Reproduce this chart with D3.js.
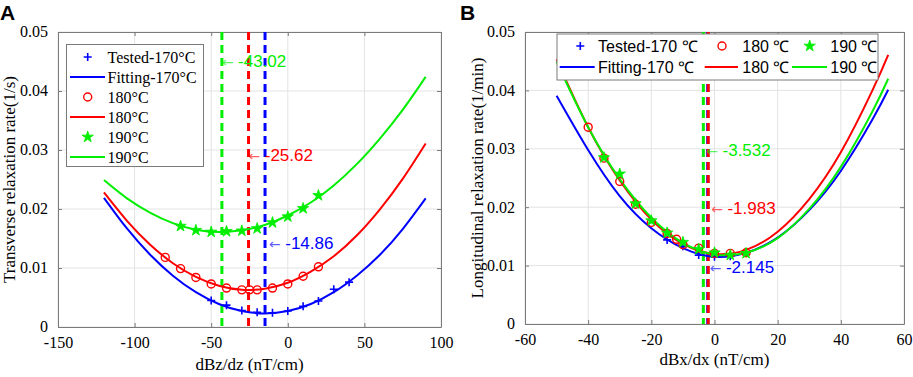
<!DOCTYPE html>
<html>
<head>
<meta charset="utf-8">
<script src="https://cdn.jsdelivr.net/npm/d3@7"></script>
<style>
  body { margin: 0; background: #fff; }
  svg { display: block; }
</style>
</head>
<body>
<svg id="chart" width="913" height="377"></svg>
<script>
// ---------- panel A : transverse relaxation ----------
var aTestX170 = [-50, -40, -30, -20, -10, 0, 10, 20, 30, 40];
var aTestY170 = [0.0045, 0.0037, 0.0028, 0.0025, 0.0024, 0.0027, 0.0035, 0.0044, 0.0064, 0.0076];
var aTestX180 = [-80, -70, -60, -50, -40, -30, -25, -20, -10, 0, 10, 20];
var aTestY180 = [0.0118, 0.0099, 0.0084, 0.0073, 0.0066, 0.0063, 0.0063, 0.0063, 0.0066, 0.0073, 0.0086, 0.0102];
var aTestX190 = [-70, -60, -50, -40, -30, -20, -10, 0, 10, 20];
var aTestY190 = [0.0171, 0.0164, 0.0161, 0.0162, 0.0163, 0.0167, 0.0177, 0.0187, 0.0201, 0.0223];

var aFitX = [-120, -105, -90, -75, -60, -45, -30, -15, 0, 15, 30, 45, 60, 75, 90];
var aFit170 = [0.0219, 0.0167, 0.0123, 0.0087, 0.0059, 0.0039, 0.0027, 0.0023, 0.0027, 0.0039, 0.0059, 0.0087, 0.0122, 0.0166, 0.0218];
var aFit180 = [0.0228, 0.0180, 0.0140, 0.0108, 0.0085, 0.0070, 0.0063, 0.0065, 0.0075, 0.0094, 0.0120, 0.0155, 0.0199, 0.0251, 0.0311];
var aFit190 = [0.0249, 0.0218, 0.0194, 0.0176, 0.0165, 0.0161, 0.0164, 0.0173, 0.0189, 0.0211, 0.0240, 0.0276, 0.0319, 0.0368, 0.0424];

var aVertex = [-14.86, -25.62, -43.02];      // 170, 180, 190
var aNoteY = [0.0142, 0.0292, 0.0450];

var aXTicks = [-150, -100, -50, 0, 50, 100];
var aYTicks = [0, 0.01, 0.02, 0.03, 0.04, 0.05];
var aLegend = ["Tested-170°C", "Fitting-170°C", "180°C", "180°C", "190°C", "190°C"];

// ---------- panel B : longitudinal relaxation ----------
var bTestX170 = [-15, -10, -5, 0, 5, 10];
var bTestY170 = [0.0144, 0.0133, 0.0118, 0.0115, 0.0116, 0.0122];
var bTestX180 = [-40, -35, -30, -25, -20, -15, -12, -10, -5, 0, 5, 10];
var bTestY180 = [0.0337, 0.0284, 0.0244, 0.0205, 0.0174, 0.0155, 0.0145, 0.0136, 0.0130, 0.0121, 0.0121, 0.0122];
var bTestX190 = [-35, -30, -25, -20, -15, -10, -5, 0, 5, 10];
var bTestY190 = [0.0285, 0.0257, 0.0206, 0.0177, 0.0156, 0.0140, 0.0128, 0.0122, 0.0118, 0.0121];

var bFitX = [-50, -40, -30, -20, -10, 0, 10, 20, 30, 40, 50, 55];
var bFit170 = [0.0391, 0.0298, 0.0219, 0.0164, 0.0130, 0.0115, 0.0122, 0.0148, 0.0195, 0.0262, 0.0350, 0.0401];
var bFit180 = [0.0453, 0.0337, 0.0246, 0.0179, 0.0137, 0.0120, 0.0127, 0.0158, 0.0214, 0.0294, 0.0400, 0.0461];
var bFit190 = [0.0449, 0.0337, 0.0248, 0.0182, 0.0139, 0.0119, 0.0122, 0.0147, 0.0197, 0.0269, 0.0364, 0.0420];

var bVertex = [-2.145, -1.983, -3.532];
var bNoteY = [0.0098, 0.0198, 0.0298];

var bXTicks = [-60, -40, -20, 0, 20, 40, 60];
var bYTicks = [0, 0.01, 0.02, 0.03, 0.04, 0.05];
var bLegend = ["Tested-170 ℃", "Fitting-170 ℃", "180 ℃", "180 ℃", "190 ℃", "190 ℃"];

var colors = ["#0000ff", "#ff0000", "#00ee00"];
var axisGray = "#7a7a7a";
var serif = '"Liberation Serif", "Times New Roman", serif';
var sans = '"Liberation Sans", Arial, sans-serif';

var svg = d3.select("#chart");

function zip(xs, ys) {
  return xs.map(function(x, i) { return [x, ys[i]]; });
}

function drawMarker(g, kind, cx, cy, color) {
  if (kind === 0) {
    g.append("path")
      .attr("d", "M" + (cx - 4) + "," + cy + "h8M" + cx + "," + (cy - 4) + "v8")
      .attr("stroke", color).attr("stroke-width", 1.6).attr("fill", "none");
  } else if (kind === 1) {
    g.append("circle").attr("cx", cx).attr("cy", cy).attr("r", 4)
      .attr("stroke", color).attr("stroke-width", 1.4).attr("fill", "none");
  } else {
    g.append("path")
      .attr("d", d3.symbol().type(d3.symbolStar).size(40)())
      .attr("transform", "translate(" + cx + "," + cy + ")")
      .attr("fill", color).attr("stroke", color).attr("stroke-width", 0.8);
  }
}

function drawPanel(p) {
  var x = d3.scaleLinear().domain(p.xDomain).range([p.left, p.right]);
  var y = d3.scaleLinear().domain([0, 0.05]).range([p.bottom, p.top]);
  var g = svg.append("g");

  // grid
  g.append("g").selectAll("line").data(p.xTicks).enter().append("line")
    .attr("x1", function(d) { return x(d); }).attr("x2", function(d) { return x(d); })
    .attr("y1", p.top).attr("y2", p.bottom)
    .attr("stroke", "#e3e3e3").attr("stroke-width", 1);
  g.append("g").selectAll("line").data(p.yTicks).enter().append("line")
    .attr("x1", p.left).attr("x2", p.right)
    .attr("y1", function(d) { return y(d); }).attr("y2", function(d) { return y(d); })
    .attr("stroke", "#e3e3e3").attr("stroke-width", 1);

  // axes (MATLAB box, ticks inside)
  var fmtX = function(d) { return String(d); };
  var fmtY = function(d) { return d === 0 ? "0" : d.toFixed(2); };
  var ax = g.append("g").attr("transform", "translate(0," + p.bottom + ")")
    .call(d3.axisBottom(x).tickValues(p.xTicks).tickFormat(fmtX).tickSizeInner(-4).tickSizeOuter(0).tickPadding(9));
  var ay = g.append("g").attr("transform", "translate(" + p.left + ",0)")
    .call(d3.axisLeft(y).tickValues(p.yTicks).tickFormat(fmtY).tickSizeInner(-4).tickSizeOuter(0).tickPadding(10));
  var at = g.append("g").attr("transform", "translate(0," + p.top + ")")
    .call(d3.axisTop(x).tickValues(p.xTicks).tickSizeInner(-4).tickSizeOuter(0).tickFormat(""));
  var ar = g.append("g").attr("transform", "translate(" + p.right + ",0)")
    .call(d3.axisRight(y).tickValues(p.yTicks).tickSizeInner(-4).tickSizeOuter(0).tickFormat(""));
  [ax, ay, at, ar].forEach(function(a) {
    a.select(".domain").attr("stroke", axisGray);
    a.selectAll(".tick line").attr("stroke", axisGray);
    a.selectAll(".tick text").attr("font-family", serif).attr("font-size", 16).attr("fill", "#000");
  });
  ax.selectAll(".tick text").attr("dy", "0.75em");
  ay.selectAll(".tick text").attr("dy", "0.3em");

  // vertex dashed lines
  p.vertex.forEach(function(v, i) {
    g.append("line")
      .attr("x1", x(v)).attr("x2", x(v)).attr("y1", p.top).attr("y2", p.bottom)
      .attr("stroke", colors[i]).attr("stroke-width", 3).attr("stroke-dasharray", "8,5");
  });

  // fitted curves
  var line = d3.line().x(function(d) { return x(d[0]); }).y(function(d) { return y(d[1]); })
    .curve(d3.curveNatural);
  p.fits.forEach(function(f, i) {
    g.append("path").datum(zip(p.fitX, f)).attr("d", line)
      .attr("fill", "none").attr("stroke", colors[i]).attr("stroke-width", 2);
  });

  // tested points
  p.tests.forEach(function(t, i) {
    var mg = g.append("g");
    t[0].forEach(function(xv, j) { drawMarker(mg, i, x(xv), y(t[1][j]), colors[i]); });
  });

  // vertex annotations
  p.vertex.forEach(function(v, i) {
    var t = g.append("text")
      .attr("x", x(v) + p.noteDx[i]).attr("y", y(p.noteY[i])).attr("dy", "0.35em")
      .attr("font-family", sans).attr("font-size", 17).attr("fill", colors[i]);
    t.append("tspan").attr("font-family", '"DejaVu Sans", sans-serif').attr("font-size", 14)
      .attr("fill-opacity", 0.65).text("\u2190 ");
    t.append("tspan").text(v);
  });

  // labels
  svg.append("text").attr("x", (p.left + p.right) / 2).attr("y", p.xLabelY)
    .attr("text-anchor", "middle").attr("font-family", serif).attr("font-size", 17)
    .text(p.xLabel);
  svg.append("text")
    .attr("transform", "translate(" + p.yLabelX + "," + (p.top + p.bottom) / 2 + ") rotate(-90)")
    .attr("text-anchor", "middle").attr("font-family", serif).attr("font-size", 17)
    .text(p.yLabel);
  svg.append("text").attr("x", p.tagX).attr("y", 20)
    .attr("font-family", sans).attr("font-weight", "bold").attr("font-size", 21)
    .text(p.tag);

  return g;
}

// ----- panel A -----
var gA = drawPanel({
  left: 58, right: 441, top: 32, bottom: 327,
  xDomain: [-150, 100], xTicks: aXTicks, yTicks: aYTicks,
  fitX: aFitX, fits: [aFit170, aFit180, aFit190],
  tests: [[aTestX170, aTestY170], [aTestX180, aTestY180], [aTestX190, aTestY190]],
  vertex: aVertex, noteY: aNoteY, noteDx: [4, 0, 0],
  xLabel: "dBz/dz (nT/cm)", xLabelY: 370,
  yLabel: "Transverse relaxation rate(1/s)", yLabelX: 15,
  tag: "A", tagX: 0
});

var legA = gA.append("g");
legA.append("rect").attr("x", 66.5).attr("y", 44.5).attr("width", 137).attr("height", 122)
  .attr("fill", "#fff").attr("stroke", axisGray).attr("stroke-width", 1);
aLegend.forEach(function(label, i) {
  var cy = 57 + i * 20, c = colors[Math.floor(i / 2)];
  if (i % 2 === 0) {
    drawMarker(legA, Math.floor(i / 2), 87.7, cy, c);
  } else {
    legA.append("line").attr("x1", 70).attr("x2", 105).attr("y1", cy).attr("y2", cy)
      .attr("stroke", c).attr("stroke-width", 2);
  }
  legA.append("text").attr("x", 107.5).attr("y", cy).attr("dy", "0.35em")
    .attr("font-family", serif).attr("font-size", 16).text(label);
});

// ----- panel B -----
var gB = drawPanel({
  left: 525, right: 904, top: 32, bottom: 324,
  xDomain: [-60, 60], xTicks: bXTicks, yTicks: bYTicks,
  fitX: bFitX, fits: [bFit170, bFit180, bFit190],
  tests: [[bTestX170, bTestY170], [bTestX180, bTestY180], [bTestX190, bTestY190]],
  vertex: bVertex, noteY: bNoteY, noteDx: [2, 3, 3],
  xLabel: "dBx/dx (nT/cm)", xLabelY: 365,
  yLabel: "Longitudinal relaxation rate(1/min)", yLabelX: 483,
  tag: "B", tagX: 460
});

var legB = gB.append("g");
legB.append("rect").attr("x", 557).attr("y", 34).attr("width", 321).attr("height", 46)
  .attr("fill", "#fff").attr("stroke", axisGray).attr("stroke-width", 1);
var legBCols = [[559.7, 594.7, 580.3, 598], [704.7, 738, 722, 742.3], [792, 827, 809.7, 830.3]];
bLegend.forEach(function(label, i) {
  var k = Math.floor(i / 2), col = legBCols[k], cy = i % 2 === 0 ? 46 : 67;
  if (i % 2 === 0) {
    drawMarker(legB, k, col[2], cy, colors[k]);
  } else {
    legB.append("line").attr("x1", col[0]).attr("x2", col[1]).attr("y1", cy).attr("y2", cy)
      .attr("stroke", colors[k]).attr("stroke-width", 2);
  }
  legB.append("text").attr("x", col[3]).attr("y", cy).attr("dy", "0.35em")
    .attr("font-family", sans).attr("font-size", 16).text(label);
});
</script>
</body>
</html>
